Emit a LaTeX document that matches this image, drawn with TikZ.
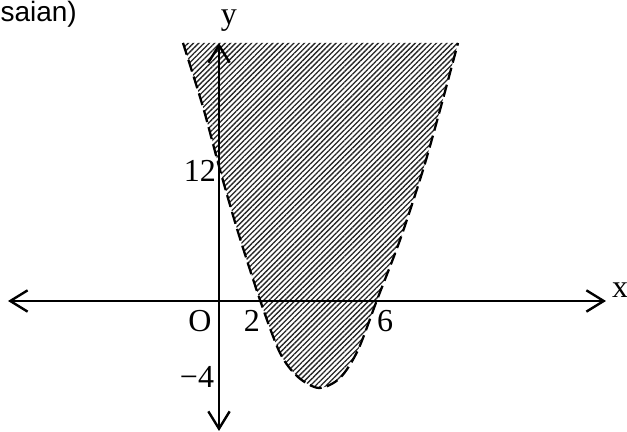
\documentclass[tikz,border=0pt]{standalone}
\usepackage{fontspec}
\setmainfont{Liberation Serif}
\newfontfamily\headsans{Liberation Sans}
\usetikzlibrary{arrows.meta,patterns.meta,positioning}

\begin{document}
\begin{tikzpicture}[x=0.375pt, y=-0.375pt,
  every node/.style={font=\fontsize{12}{14}\selectfont, inner sep=0pt},
  axis/.style={{Straight Barb[length=6.5pt, width=8pt]}-{Straight Barb[length=6.5pt, width=8pt]}, line width=0.9pt},
  curve/.style={dash pattern=on 4.6pt off 2pt, line width=0.85pt},
  hatch/.style={pattern={Lines[angle=45, distance=1.4pt, line width=0.5pt]}, pattern color=black!85}]
\useasboundingbox (0,0) rectangle (627,432);
\node[anchor=base west, font=\headsans\fontsize{10.5}{13}\selectfont] (head) at (0,22) {saian)};
\fill[hatch] plot[smooth] coordinates {(183,43) (203,107) (220,170) (238,232) (260,300) (280,353) (298,377) (319,388) (340,378) (358,350) (377,300) (400,240) (423,170) (440,110) (458,43)} -- cycle;
\draw[curve] plot[smooth] coordinates {(183,43) (203,107) (220,170) (238,232) (260,300) (280,353) (298,377) (319,388) (340,378) (358,350) (377,300) (400,240) (423,170) (440,110) (458,43)};
\coordinate (xl) at (8,301); \coordinate (xr) at (606,301);
\coordinate (yb) at (219,431); \coordinate (yt) at (219,43);
\draw[axis] (xl) -- (xr); \draw[axis] (yb) -- (yt);
\node[anchor=base] (ylab) at (229,25) {y};
\node[anchor=base] (xlab) at (620,298) {x};
\node[anchor=base] (twelve) at (200,182) {12};
\node[anchor=base] (orig) at (200,332) {O};
\node[anchor=base] (two) at (252,332) {2};
\node[anchor=base] (six) at (385,332) {6};
\node[anchor=base] (minusfour) at (197,388) {−4};
\end{tikzpicture}
\end{document}
